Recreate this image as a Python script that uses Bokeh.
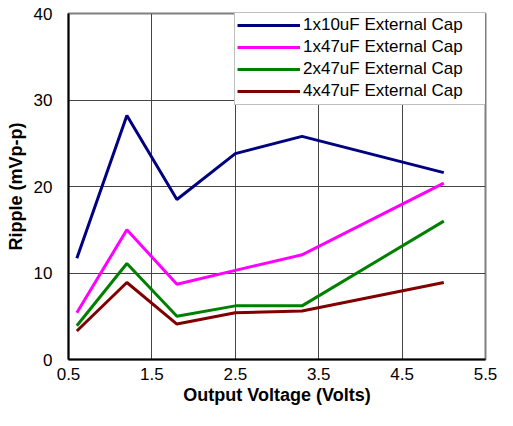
from bokeh.plotting import figure
from bokeh.models import Range1d, FixedTicker, Legend, LegendItem
from bokeh.embed import file_html
from bokeh.resources import INLINE

# Data
vout = [0.6, 1.2, 1.8, 2.5, 3.3, 5.0]
cap_1x10 = [11.7, 28.2, 18.5, 23.8, 25.8, 21.6]
cap_1x47 = [5.4, 15.0, 8.7, 10.3, 12.1, 20.4]
cap_2x47 = [3.9, 11.1, 5.0, 6.2, 6.2, 16.0]
cap_4x47 = [3.3, 8.9, 4.1, 5.4, 5.6, 8.9]
series_names = ["1x10uF External Cap", "1x47uF External Cap",
                "2x47uF External Cap", "4x47uF External Cap"]
series_colors = ["#000080", "#FF00FF", "#008000", "#800000"]
x_ticks = [0.5, 1.5, 2.5, 3.5, 4.5, 5.5]
y_ticks = [0, 10, 20, 30, 40]

FONT = "Liberation Sans"
W, H = 497, 410
BL, BR, BT, BB = 68, 12, 13, 51
FRAME_W = W - BL - BR
FRAME_H = H - BT - BB

p = figure(width=W, height=H, output_backend="svg", toolbar_location=None,
           x_range=Range1d(0.5, 5.5), y_range=Range1d(0, 40),
           min_border_left=BL, min_border_right=BR,
           min_border_top=BT, min_border_bottom=BB)

p.outline_line_color = "#808080"
p.outline_line_width = 2
p.background_fill_color = "white"
p.border_fill_color = "white"

renderers = []
for ys, c in zip([cap_1x10, cap_1x47, cap_2x47, cap_4x47], series_colors):
    r = p.line(vout, ys, line_color=c, line_width=3)
    renderers.append(r)

for ax in (p.xaxis[0], p.yaxis[0]):
    ax.axis_line_color = "black"
    ax.axis_line_width = 2
    ax.major_tick_line_color = None
    ax.minor_tick_line_color = None
    ax.major_tick_out = 0
    ax.major_tick_in = 0
    ax.major_label_text_font = FONT
    ax.major_label_text_font_size = "17px"
    ax.major_label_text_color = "black"
    ax.axis_label_text_font = FONT
    ax.axis_label_text_font_size = "18px"
    ax.axis_label_text_font_style = "bold"
    ax.axis_label_text_color = "black"

p.yaxis[0].major_label_standoff = 16
p.yaxis[0].axis_label_standoff = 5
p.xaxis[0].major_label_standoff = 8
p.xaxis[0].axis_label_standoff = 2

p.xaxis[0].ticker = FixedTicker(ticks=x_ticks)
p.yaxis[0].ticker = FixedTicker(ticks=y_ticks)
p.xaxis[0].axis_label = "Output Voltage (Volts)"
p.yaxis[0].axis_label = "Ripple (mVp-p)"

for g in (p.xgrid[0], p.ygrid[0]):
    g.grid_line_color = "#444444"
    g.grid_line_width = 1

LEG_W, LEG_H = 251, 92
legend = Legend(items=[LegendItem(label=n, renderers=[r]) for n, r in zip(series_names, renderers)],
                location=(FRAME_W - LEG_W, FRAME_H - LEG_H),
                padding=2, spacing=0, margin=0,
                glyph_width=63, glyph_height=22, label_height=22,
                label_width=181, label_standoff=3,
                label_text_font=FONT, label_text_font_size="17px",
                label_text_color="black",
                border_line_color="#808080", border_line_width=1,
                background_fill_color="white", background_fill_alpha=1)
p.add_layout(legend, "center")

open("out.html", "w").write(file_html(p, INLINE))
